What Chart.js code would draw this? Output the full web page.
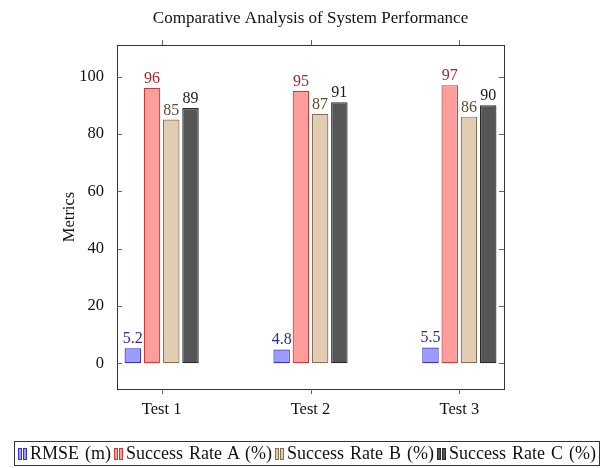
<!DOCTYPE html>
<html><head><meta charset="utf-8">
<script src="https://cdn.jsdelivr.net/npm/chart.js@4.4.0/dist/chart.umd.min.js"></script>
<style>
html,body{margin:0;padding:0;background:#fff;}
#wrap{position:relative;width:613px;height:468px;}
#legend{position:absolute;left:14px;top:441px;width:586px;height:25px;box-sizing:border-box;border:1px solid #333;font-family:'Liberation Serif','Times New Roman',serif;font-size:18px;word-spacing:1.5px;display:flex;align-items:center;white-space:nowrap;color:#111;padding-left:3px;}
.item{display:flex;align-items:center;margin-right:3px;}
.ic{display:inline-block;width:2px;height:10px;margin-right:1px;border:1px solid;}
.ic2{margin-right:3px;}
</style></head>
<body><div id="wrap"><canvas id="c" width="613" height="468"></canvas><div id="legend"></div></div>
<script>
const categories = ['Test 1', 'Test 2', 'Test 3'];
const seriesNames = ['RMSE (m)', 'Success Rate A (%)', 'Success Rate B (%)', 'Success Rate C (%)'];
const rmse = [5.2, 4.8, 5.5];
const rateA = [96, 95, 97];
const rateB = [85, 87, 86];
const rateC = [89, 91, 90];
const yTicks = [0, 20, 40, 60, 80, 100];
const xPositions = [1, 2, 3];

const FONT = "'Liberation Serif','Times New Roman',serif";
const fills = ['#9c9cff', '#ff9c9c', '#e2cdb3', '#565656'];
const borders = ['#3434c8', '#c83a3a', '#8a6e50', '#2a2a2a'];
const labelColors = ['#2a2a9c', '#b0202a', '#5e4a2c', '#1a1a1a'];
const seriesValues = [rmse, rateA, rateB, rateC];

const datasets = seriesValues.map((vals, i) => ({
  label: seriesNames[i],
  data: vals.map((v, j) => ({ x: xPositions[j], y: v })),
  backgroundColor: fills[i],
  borderColor: borders[i],
  borderWidth: 1.2,
  borderSkipped: false,
  categoryPercentage: 0.517,
  barPercentage: 0.857
}));

const valueLabels = {
  id: 'valueLabels',
  afterDatasetsDraw(chart) {
    const ctx = chart.ctx;
    ctx.save();
    ctx.font = '16px ' + FONT;
    ctx.textAlign = 'center';
    ctx.textBaseline = 'alphabetic';
    chart.data.datasets.forEach((ds, i) => {
      const meta = chart.getDatasetMeta(i);
      meta.data.forEach((el, j) => {
        ctx.fillStyle = labelColors[i];
        ctx.fillText(String(ds.data[j].y), el.x, el.y - 5);
      });
    });
    ctx.restore();
  }
};

const frame = {
  id: 'frame',
  afterDraw(chart) {
    const ctx = chart.ctx;
    const a = chart.chartArea;
    const ys = chart.scales.y, xs = chart.scales.x;
    ctx.save();
    ctx.strokeStyle = '#333';
    ctx.lineWidth = 1;
    ctx.strokeRect(Math.round(a.left) + 0.5, Math.round(a.top) + 0.5, Math.round(a.right - a.left), Math.round(a.bottom - a.top));
    ctx.strokeStyle = '#666';
    ctx.beginPath();
    yTicks.forEach(v => {
      const y = Math.round(ys.getPixelForValue(v)) + 0.5;
      ctx.moveTo(a.left, y); ctx.lineTo(a.left + 5, y);
      ctx.moveTo(a.right - 5, y); ctx.lineTo(a.right, y);
    });
    xPositions.forEach(v => {
      const x = Math.round(xs.getPixelForValue(v)) + 0.5;
      ctx.moveTo(x, a.top - 5); ctx.lineTo(x, a.top);
      ctx.moveTo(x, a.bottom); ctx.lineTo(x, a.bottom + 5);
    });
    ctx.stroke();
    ctx.restore();
  }
};

new Chart(document.getElementById('c'), {
  type: 'bar',
  data: { datasets },
  options: {
    responsive: false,
    animation: false,
    devicePixelRatio: 1,
    layout: { padding: { left: 8, right: 0, top: 0, bottom: 0 } },
    plugins: {
      legend: { display: false },
      tooltip: { enabled: false },
      title: {
        display: true,
        text: 'Comparative Analysis of System Performance',
        color: '#111',
        font: { family: FONT, size: 17, weight: 'normal' },
        padding: { top: 8.5, bottom: 16.1 }
      }
    },
    scales: {
      x: {
        type: 'linear',
        min: 0.7, max: 3.3,
        offset: false,
        grid: { display: false },
        border: { display: false },
        afterBuildTicks: s => { s.ticks = xPositions.map(v => ({ value: v })); },
        ticks: {
          color: '#111',
          font: { family: FONT, size: 16.5 },
          padding: 3,
          callback: (v) => categories[xPositions.indexOf(v)] ?? ''
        },
        afterFit: s => { s.height = 79; }
      },
      y: {
        min: -9, max: 111,
        grid: { display: false },
        border: { display: false },
        afterBuildTicks: s => { s.ticks = yTicks.map(v => ({ value: v })); },
        ticks: { color: '#111', font: { family: FONT, size: 16.5 }, padding: 5 },
        title: { display: true, text: 'Metrics', color: '#111', font: { family: FONT, size: 16.5 }, padding: { top: 52, bottom: 0 } },
        afterFit: s => { s.width = 109; }
      },
      yRight: {
        type: 'linear',
        position: 'right',
        min: 0, max: 1,
        grid: { display: false },
        border: { display: false },
        ticks: { display: false },
        afterFit: s => { s.width = 109; }
      }
    }
  },
  plugins: [valueLabels, frame]
});

const leg = document.getElementById('legend');
seriesNames.forEach((n, i) => {
  const it = document.createElement('span');
  it.className = 'item';
  const a = document.createElement('span'); a.className = 'ic';
  a.style.background = fills[i]; a.style.borderColor = borders[i];
  const b = document.createElement('span'); b.className = 'ic ic2';
  b.style.background = fills[i]; b.style.borderColor = borders[i];
  const t = document.createElement('span'); t.textContent = n;
  it.appendChild(a); it.appendChild(b); it.appendChild(t);
  leg.appendChild(it);
});
</script>
</body></html>
